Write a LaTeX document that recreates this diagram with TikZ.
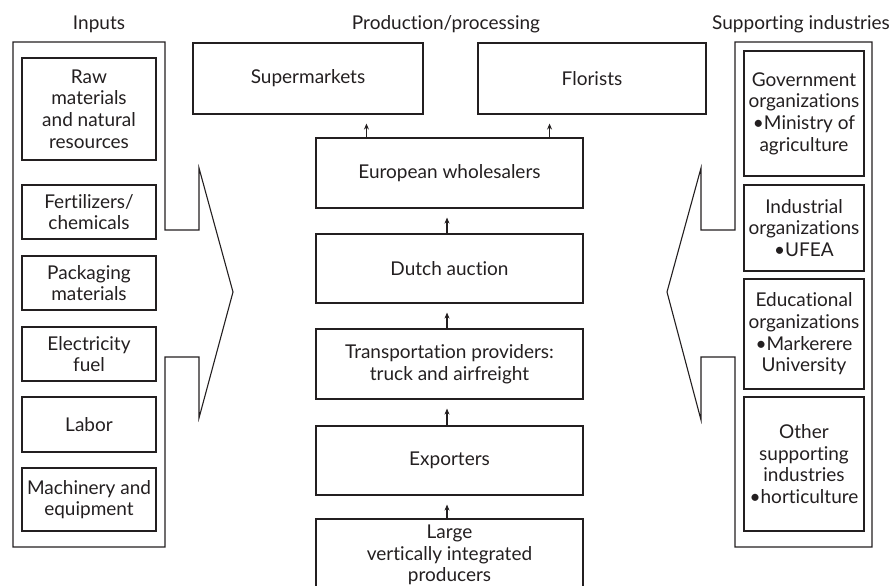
\documentclass[tikz,border=0pt]{standalone}
\usepackage{fontspec}
\setmainfont{Lato}[Ligatures=NoCommon]
\usetikzlibrary{arrows.meta}
\definecolor{ink}{RGB}{35,31,32}
\begin{document}
\begin{tikzpicture}[x=1pt,y=-1pt,
  every node/.style={text=ink,font=\fontsize{19}{21.7}\selectfont},
  box/.style={draw=ink,line width=1.1pt,inner sep=0pt,align=center},
  lbox/.style={box,minimum width=134pt},
  rbox/.style={box,minimum width=120pt},
  cbox/.style={box,minimum width=267pt},
  head/.style={anchor=base},
  arr/.style={draw=ink,line width=1.1pt,-{Stealth[length=6pt,width=5pt]},shorten >=9pt}]
\useasboundingbox (0,0) rectangle (894,586);
% headings
\node[head] (hin) at (99,30) {Inputs};
\node[head] (hpr) at (446,30) {Production/processing};
\node[head] (hsu) at (801,30) {Supporting industries};
% left outer shape
\draw[ink,line width=1.1pt] (165,230)--(165,42)--(13,42)--(13,547)--(165,547)--(165,357)--(199,357)--(199,418)--(233,292)--(199,168)--(199,230)--cycle;
% right outer shape
\draw[ink,line width=1.1pt] (735,230)--(735,42)--(872,42)--(872,547)--(735,547)--(735,357)--(701,357)--(701,420)--(667,292)--(701,168)--(701,230)--cycle;
% left inner boxes
\node[lbox,minimum height=102pt] (raw) at (89,109) {Raw\\materials\\and natural\\resources};
\node[lbox,minimum height=54pt] (fert) at (89,212) {Fertilizers/\\chemicals};
\node[lbox,minimum height=54pt] (pack) at (89,283) {Packaging\\materials};
\node[lbox,minimum height=54pt] (elec) at (89,354) {Electricity\\fuel};
\node[lbox,minimum height=55pt] (lab) at (89,424.5) {Labor};
\node[lbox,minimum height=63pt] (mach) at (89,499.5) {Machinery and\\equipment};
% right inner boxes
\node[rbox,minimum height=125pt] (gov) at (804,113.5) {Government\\organizations\\\textbullet Ministry of\\agriculture};
\node[rbox,minimum height=86pt] (ind) at (804,228) {Industrial\\organizations\\\textbullet UFEA};
\node[rbox,minimum height=110pt] (edu) at (804,334) {Educational\\organizations\\\textbullet Markerere\\University};
\node[rbox,minimum height=134pt] (oth) at (804,464) {Other\\supporting\\industries\\\textbullet horticulture};
% top boxes
\node[box,minimum width=230pt,minimum height=71pt] (sup) at (308,78.5) {Supermarkets};
\node[box,minimum width=228pt,minimum height=71pt] (flo) at (592,78.5) {Florists};
% center chain
\node[cbox,minimum height=70pt] (euro) at (449.5,173) {European wholesalers};
\node[cbox,minimum height=69pt] (dutch) at (449.5,268.5) {Dutch auction};
\node[cbox,minimum height=70pt] (trans) at (449.5,364) {Transportation providers:\\truck and airfreight};
\node[cbox,minimum height=69pt] (exp) at (449.5,460.5) {Exporters};
\node[cbox,minimum height=72pt] (large) at (449.5,555) {Large\\vertically integrated\\producers};
% arrows
\draw[arr] ([xshift=-2.5pt]large.north) -- ([xshift=-2.5pt]exp.south);
\draw[arr] ([xshift=-2.5pt]exp.north) -- ([xshift=-2.5pt]trans.south);
\draw[arr] ([xshift=-2.5pt]trans.north) -- ([xshift=-2.5pt]dutch.south);
\draw[arr] ([xshift=-2.5pt]dutch.north) -- ([xshift=-2.5pt]euro.south);
\draw[arr] ([xshift=51pt]euro.north west) -- ([xshift=51pt]euro.north west |- sup.south);
\draw[arr] ([xshift=-34pt]euro.north east) -- ([xshift=-34pt]euro.north east |- flo.south);
\end{tikzpicture}
\end{document}
